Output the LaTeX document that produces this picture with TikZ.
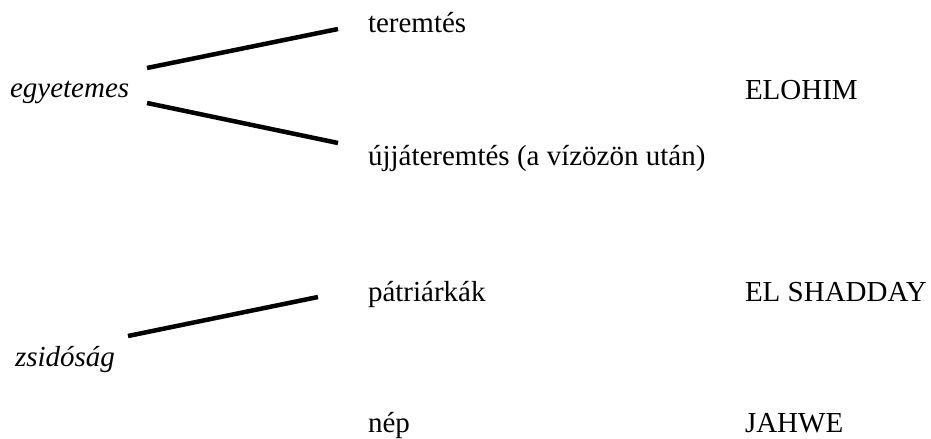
\documentclass[tikz,border=0pt]{standalone}
\usepackage{fontspec}
\setmainfont{Liberation Serif}
\begin{document}
\begin{tikzpicture}[x=1bp,y=-1bp,
  label/.style={anchor=base west,inner sep=0pt,outer sep=0pt,
    font=\fontsize{29bp}{35bp}\selectfont},
  group/.style={label,font=\fontsize{29bp}{35bp}\selectfont\itshape},
  bar/.style={line width=4.5bp,line cap=butt}]
\useasboundingbox (0,0) rectangle (931,439);

% left-hand groupings
\node[group] (egy) at (10,98)  {egyetemes};
\node[group] (zsi) at (15,367) {zsidóság};

% middle column
\node[label] (ter) at (368,33)  {teremtés};
\node[label] (ujj) at (368,166) {újjáteremtés (a vízözön után)};
\node[label] (pat) at (368,302) {pátriárkák};
\node[label] (nep) at (368,432) {nép};

% divine names
\node[label] (elo) at (745,100) {ELOHIM};
\node[label] (els) at (745,302) {EL SHADDAY};
\node[label] (jah) at (745,432) {JAHWE};

% bar end points
\coordinate (e1) at (147,68);
\coordinate (t1) at (338,29);
\coordinate (e2) at (147,103);
\coordinate (u1) at (338,143);
\coordinate (z1) at (128,336);
\coordinate (p1) at (318,297);

\draw[bar] (e1) -- (t1);
\draw[bar] (e2) -- (u1);
\draw[bar] (z1) -- (p1);
\end{tikzpicture}
\end{document}
